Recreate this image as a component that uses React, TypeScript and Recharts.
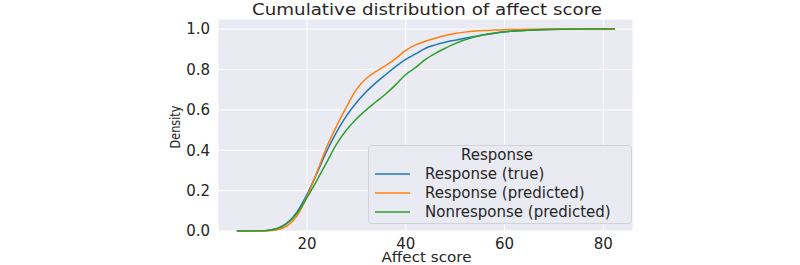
import { LineChart, Line, XAxis, YAxis, CartesianGrid, Legend, Label } from 'recharts';

const scores = [5.8, 8, 10, 12, 14, 16, 18, 20, 22, 24, 26, 28, 30, 32, 34, 36, 38, 40, 42, 44, 46, 48, 50, 52, 54, 56, 58, 60, 62, 65, 68, 72, 76, 82.3];
const responseTrue = [0, 0, 0.001, 0.003, 0.012, 0.04, 0.095, 0.18, 0.285, 0.395, 0.49, 0.57, 0.635, 0.69, 0.735, 0.775, 0.815, 0.85, 0.877, 0.905, 0.922, 0.935, 0.945, 0.955, 0.963, 0.972, 0.98, 0.986, 0.99, 0.994, 0.997, 0.999, 1, 1];
const responsePred = [0, 0, 0, 0.001, 0.006, 0.025, 0.075, 0.17, 0.29, 0.415, 0.52, 0.615, 0.7, 0.755, 0.79, 0.82, 0.855, 0.895, 0.922, 0.94, 0.955, 0.968, 0.978, 0.985, 0.99, 0.993, 0.995, 0.997, 0.998, 0.999, 1, 1, 1, 1];
const nonresponsePred = [0, 0, 0.001, 0.003, 0.012, 0.037, 0.088, 0.165, 0.25, 0.34, 0.43, 0.5, 0.555, 0.6, 0.64, 0.68, 0.725, 0.775, 0.81, 0.85, 0.88, 0.905, 0.928, 0.947, 0.962, 0.973, 0.981, 0.987, 0.991, 0.995, 0.998, 0.999, 1, 1];

const xTicks = [20, 40, 60, 80];
const yTicks = [0, 0.2, 0.4, 0.6, 0.8, 1.0];

const series = [
  { key: 'true', name: 'Response (true)', color: '#1f77b4' },
  { key: 'pred', name: 'Response (predicted)', color: '#ff7f0e' },
  { key: 'non', name: 'Nonresponse (predicted)', color: '#2ca02c' },
];

const data = scores.map((s, i) => ({
  score: s,
  true: responseTrue[i],
  pred: responsePred[i],
  non: nonresponsePred[i],
}));

const FONT = '"DejaVu Sans", sans-serif';
const TEXT = '#262626';

function LegendBox() {
  return (
    <svg width={264} height={79} style={{ display: 'block' }}>
      <rect x={0.5} y={0.5} width={263} height={78} rx={3} fill="#EAEAF2" stroke="#d2d2d9" />
      <text x={129} y={14.5} textAnchor="middle" fontFamily={FONT} fontSize={15} fill={TEXT}>Response</text>
      {series.map((s, i) => (
        <g key={s.key}>
          <line x1={7} x2={42} y1={29 + i * 19} y2={29 + i * 19} stroke={s.color} strokeWidth={1.5} />
          <text x={57} y={34.4 + i * 19} fontFamily={FONT} fontSize={15} fill={TEXT}>{s.name}</text>
        </g>
      ))}
    </svg>
  );
}

export default function App() {
  return (
    <div style={{ position: 'absolute', left: 0, top: 0, width: 800, height: 265, background: '#fff' }}>
      {/* title, stretched a little like the source figure */}
      <svg width={800} height={19} style={{ position: 'absolute', left: 0, top: 0, zIndex: 2 }}>
        <text
          x={427}
          y={15}
          textAnchor="middle"
          fontFamily={FONT}
          fontSize={16}
          fill={TEXT}
          textLength={350}
          lengthAdjust="spacingAndGlyphs"
        >
          Cumulative distribution of affect score
        </text>
      </svg>
      <LineChart width={800} height={265} data={data} margin={{ top: 19, right: 167, bottom: 4, left: 168 }}>
        <CartesianGrid fill="#EAEAF2" stroke="#ffffff" strokeWidth={1} />
        <XAxis
          dataKey="score"
          type="number"
          domain={[2, 86]}
          ticks={xTicks}
          height={30}
          axisLine={false}
          tickLine={false}
          tickSize={0}
          tickMargin={7}
          tick={{ fontFamily: FONT, fontSize: 15, fill: TEXT }}
        >
          <Label
            content={(props: any) => {
              const vb = props.viewBox || {};
              return (
                <text
                  x={vb.x + vb.width / 2 + 1}
                  y={261.5}
                  textAnchor="middle"
                  fontFamily={FONT}
                  fontSize={14}
                  fill={TEXT}
                  textLength={90}
                  lengthAdjust="spacingAndGlyphs"
                >
                  Affect score
                </text>
              );
            }}
          />
        </XAxis>
        <YAxis
          type="number"
          domain={[0, 1.05]}
          ticks={yTicks}
          width={50}
          axisLine={false}
          tickLine={false}
          tickSize={0}
          tickMargin={8}
          tickFormatter={(v: number) => v.toFixed(1)}
          tick={{ fontFamily: FONT, fontSize: 15, fill: TEXT }}
        >
          <Label
            content={(props: any) => {
              const vb = props.viewBox || {};
              const cx = vb.x + 7;
              const cy = vb.y + vb.height / 2 + 2;
              return (
                <text
                  x={cx}
                  y={cy}
                  transform={`rotate(-90 ${cx} ${cy})`}
                  textAnchor="middle"
                  dominantBaseline="central"
                  fontFamily={FONT}
                  fontSize={14}
                  fill={TEXT}
                  textLength={43}
                  lengthAdjust="spacingAndGlyphs"
                >
                  Density
                </text>
              );
            }}
          />
        </YAxis>
        <Legend
          layout="vertical"
          align="center"
          verticalAlign="middle"
          content={() => <LegendBox />}
          wrapperStyle={{ position: 'absolute', left: 368, top: 145, width: 264, height: 79 }}
        />
        {series.map(s => (
          <Line
            key={s.key}
            type="monotone"
            dataKey={s.key}
            name={s.name}
            stroke={s.color}
            strokeWidth={1.5}
            dot={false}
            activeDot={false}
            isAnimationActive={false}
          />
        ))}
      </LineChart>
    </div>
  );
}
